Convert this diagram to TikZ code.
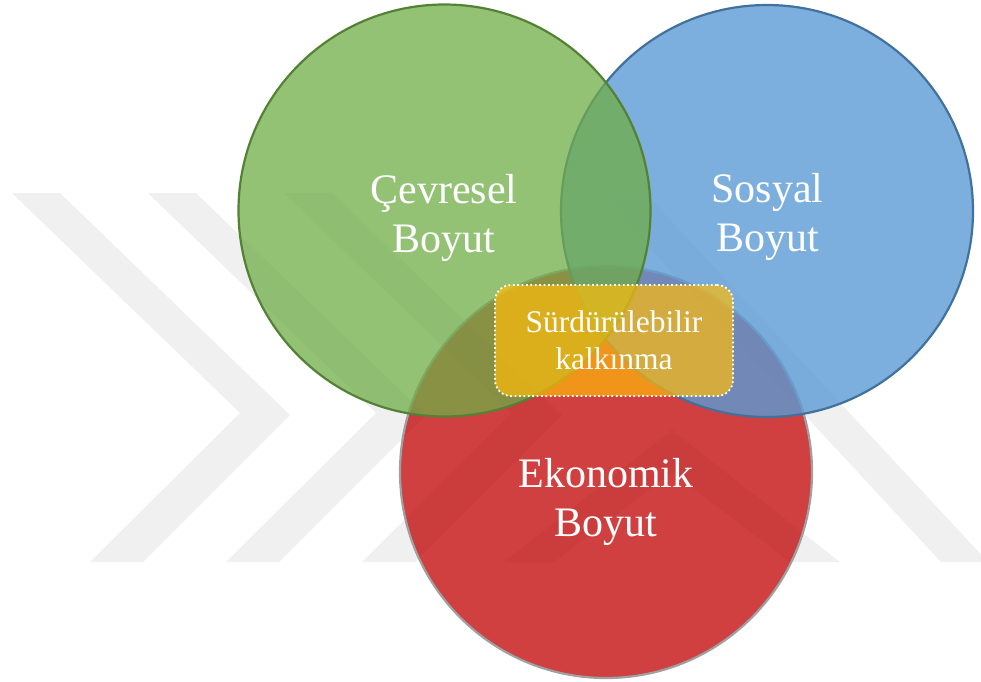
\documentclass[tikz,border=0pt]{standalone}
\usepackage{fontspec}
\setmainfont{Liberation Serif}
\usetikzlibrary{positioning}
\definecolor{cevregreen}{RGB}{112,173,71}
\definecolor{cevreline}{RGB}{84,130,53}
\definecolor{sosyalblue}{RGB}{91,155,213}
\definecolor{sosyalline}{RGB}{65,113,156}
\definecolor{ekonomired}{RGB}{192,0,0}
\definecolor{ekonomiline}{RGB}{160,160,160}
\definecolor{kalkinmayellow}{RGB}{255,188,8}
\definecolor{markgray}{RGB}{128,128,128}

\begin{document}
\begin{tikzpicture}[x=1pt,y=-1pt]
\tikzset{venn/.style={circle, minimum size=412pt, inner sep=0pt, line width=2.2pt, fill opacity=.75}}
\tikzset{dimlabel/.style={text=white, align=center, font=\fontsize{42}{49}\selectfont}}
\tikzset{markband/.style={fill=markgray, fill opacity=.12}}
\tikzset{goalbox/.style={draw=white, line width=1.8pt, dash pattern=on 1.8pt off 2.6pt,
  rounded corners=16pt, fill=kalkinmayellow, fill opacity=.69, text opacity=1,
  minimum width=238pt, minimum height=111pt, inner sep=0pt, text=white,
  align=center, font=\fontsize{31.5}{37}\selectfont}}
\useasboundingbox (0,0) rectangle (981,681);
% faint watermark
\foreach \s in {0,136,272}
  \fill[markband, shift={(\s,0)}] (12,193) -- (60,193) -- (290,415) -- (143,562)
    -- (90,562) -- (240,413) -- cycle;
\fill[markband] (672,430) -- (840,562) -- (790,562) -- (672,472) -- (554,562)
  -- (504,562) -- cycle;
\fill[markband] (599,193) -- (645,193) -- (988,562) -- (941,562) -- cycle;
% the three dimensions
\node[venn, fill=ekonomired, draw=ekonomiline] (ekonomi) at (606,472) {};
\node[venn, fill=sosyalblue, draw=sosyalline, fill opacity=.8] (sosyal) at (767,211) {};
\node[venn, fill=cevregreen, draw=cevreline] (cevre) at (444.5,210.5) {};
% centre
\node[goalbox] (kalkinma) at (614,340.5) {Sürdürülebilir\\kalkınma};
% labels
\node[dimlabel] (cevrelabel) at (444,217.5) {Çevresel\\Boyut};
\node[dimlabel] (sosyallabel) at (767.5,216.5) {Sosyal\\Boyut};
\node[dimlabel] (ekonomilabel) at (606,502) {Ekonomik\\Boyut};
\end{tikzpicture}
\end{document}
